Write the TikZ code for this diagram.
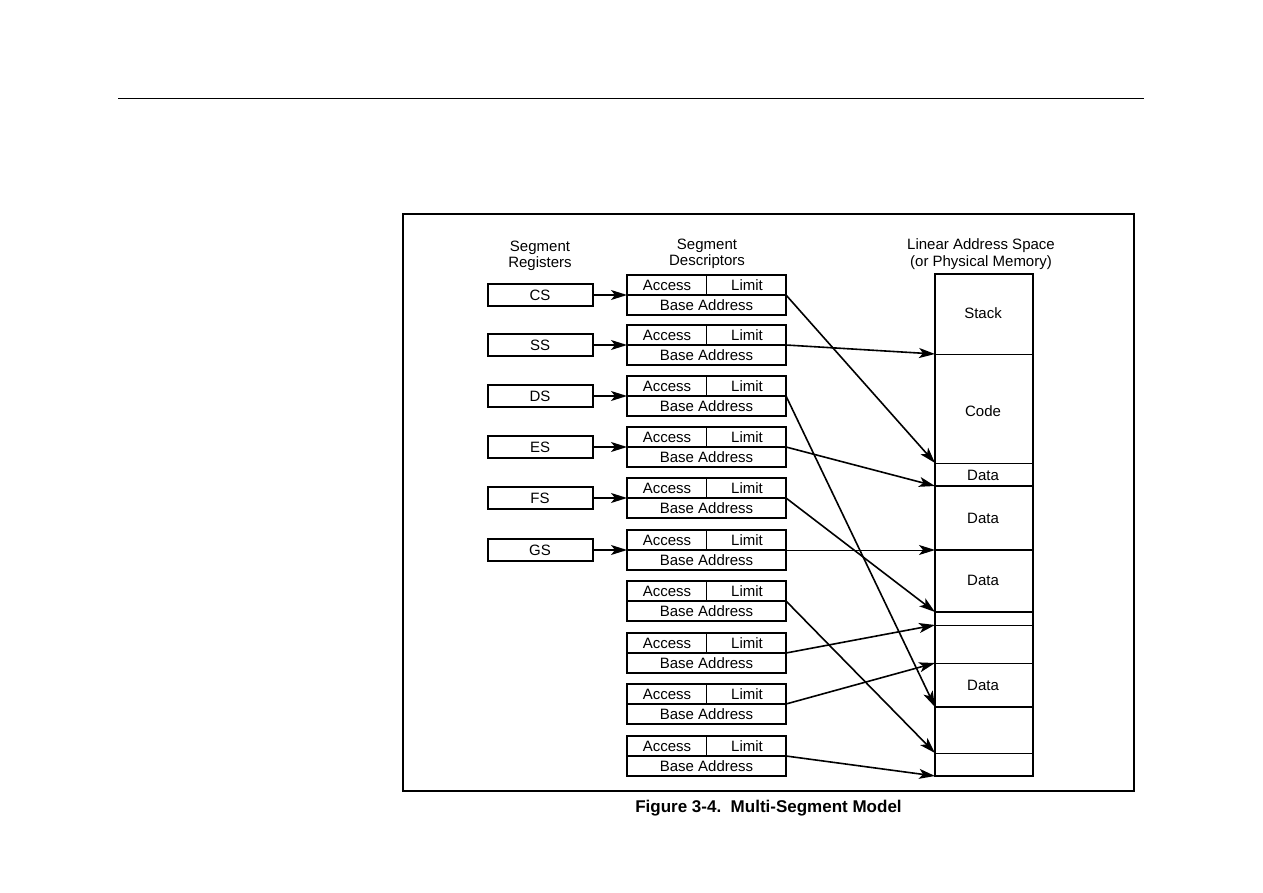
\documentclass[tikz,border=0pt]{standalone}
\usepackage{fontspec}
\setmainfont{Liberation Sans}
\usetikzlibrary{arrows.meta}
\begin{document}
\begin{tikzpicture}[x=1pt,y=-1pt,
  every node/.style={font=\fontsize{15}{16.5}\selectfont, inner sep=0pt, outer sep=0pt},
  reg/.style={draw, line width=2pt, minimum width=105pt, minimum height=22pt},
  descbox/.style={draw, line width=2pt, minimum width=159pt, minimum height=40pt},
  ptr/.style={line width=1.6pt, -{Stealth[length=16pt,width=10pt,inset=4pt]}},
  thinptr/.style={line width=0.9pt, -{Stealth[length=16pt,width=10pt,inset=4pt]}}]
\useasboundingbox (0,0) rectangle (1263,893);
% top rule
\draw[line width=1pt] (118,99) -- (1144,99);
% frame
\node[draw, line width=2.2pt, minimum width=731pt, minimum height=577pt] (frame) at (768.5,502.5) {};
% captions of columns
\node[align=center] (hreg) at (540,256) {Segment\\Registers};
\node[align=center] (hdesc) at (707,254) {Segment\\Descriptors};
\node[align=center] (hmem) at (981,254) {Linear Address Space\\(or Physical Memory)};
% descriptors
\foreach \i/\y in {1/295,2/345,3/396,4/447,5/498,6/550,7/601,8/653,9/704,10/756}{
  \node[descbox] (d\i) at (706.5,\y) {};
  \draw[line width=2pt] (d\i.west) -- (d\i.east);
  \draw[line width=1pt] (d\i.north) -- (d\i.center);
  \node (a\i) at (667,\y-9.5) {Access};
  \node (l\i) at (747,\y-9.5) {Limit};
  \node (b\i) at (706.5,\y+10.5) {Base Address};
}
% registers
\foreach \n/\t/\i in {cs/CS/1,ss/SS/2,ds/DS/3,es/ES/4,fs/FS/5,gs/GS/6}{
  \path (d\i.west) ++(-87,0) node[reg] (\n) {\t};
  \draw[ptr] (\n.east) -- (d\i.west);
}
% memory
\coordinate (m0) at (935,274);
\coordinate (m1) at (935,354);
\coordinate (m2) at (935,463);
\coordinate (m3) at (935,486);
\coordinate (m4) at (935,550);
\coordinate (m5) at (935,612);
\coordinate (m6) at (935,625);
\coordinate (m7) at (935,663);
\coordinate (m8) at (935,707);
\coordinate (m9) at (935,753);
\coordinate (m10) at (935,776);
\draw[line width=2.2pt] (m0) rectangle (1033,776);
\foreach \k in {3,4,5,8}{ \draw[line width=2.2pt] (m\k) -- ++(98,0); }
\foreach \k in {1,2,6,7,9}{ \draw[line width=1pt] (m\k) -- ++(98,0); }
\node (stack) at (983,313) {Stack};
\node (code) at (983,411) {Code};
\node (data1) at (983,475) {Data};
\node (data2) at (983,518) {Data};
\node (data3) at (983,580) {Data};
\node (data4) at (983,685) {Data};
% pointers from descriptors
\draw[ptr] (d1.east) -- (m2);
\draw[ptr] (d2.east) -- (m1);
\draw[ptr] (d3.east) -- (m8);
\draw[ptr] (d4.east) -- (m3);
\draw[ptr] (d5.east) -- (m5);
\draw[thinptr] (d6.east) -- (m4);
\draw[ptr] (d7.east) -- (m9);
\draw[ptr] (d8.east) -- (m6);
\draw[ptr] (d9.east) -- (m7);
\draw[ptr] (d10.east) -- (m10);
% caption
\node[font=\fontsize{17}{19}\selectfont\bfseries] (cap) at (768.5,808) {Figure 3-4.\ \ Multi-Segment Model};
\end{tikzpicture}
\end{document}
